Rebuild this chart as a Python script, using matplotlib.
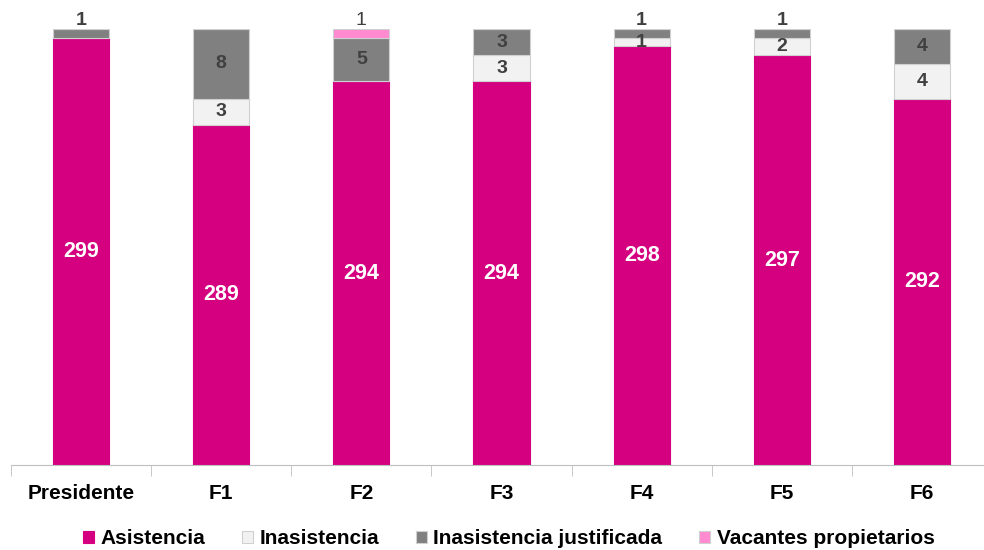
import matplotlib
matplotlib.use("Agg")
import matplotlib.pyplot as plt
import numpy as np

plt.rcParams['font.family'] = ['Liberation Sans', 'DejaVu Sans']

categories = ["Presidente", "F1", "F2", "F3", "F4", "F5", "F6"]
asistencia = [299, 289, 294, 294, 298, 297, 292]
inasistencia = [0, 3, 0, 3, 1, 2, 4]
justificada = [1, 8, 5, 3, 1, 1, 4]
vacantes = [0, 0, 1, 0, 0, 0, 0]
series_names = ["Asistencia", "Inasistencia", "Inasistencia justificada", "Vacantes propietarios"]
colors = ["#D5007F", "#F2F2F2", "#808080", "#FF8AD0"]

fig = plt.figure(figsize=(9.84, 5.50), dpi=100)
ax = fig.add_axes([11/984, 1-465/550, 981/984, (465-29)/550])
x = np.arange(len(categories))
w = 0.4
ymin, ymax = 250, 300

series = [asistencia, inasistencia, justificada, vacantes]
bottom = np.zeros(len(categories))
handles = []
for si, (vals, col, name) in enumerate(zip(series, colors, series_names)):
    vals = np.array(vals, dtype=float)
    ec = col if si == 0 else "#D0D0D0"
    b = ax.bar(x, vals, w, bottom=bottom, color=col, edgecolor=ec, linewidth=0.8, label=name)
    handles.append(b)
    for i, v in enumerate(vals):
        if v <= 0:
            continue
        lo = max(bottom[i], ymin)
        hi = bottom[i] + v
        top_seg = all(series[k][i] == 0 for k in range(si + 1, len(series)))
        if si == 0:
            ax.text(x[i], (lo + hi) / 2, f"{int(v)}", ha="center", va="center",
                    color="white", fontsize=15.5, fontweight="bold")
        elif v == 1 and top_seg:
            ax.text(x[i], hi + 0.05, f"{int(v)}", ha="center", va="bottom",
                    color="#404040", fontsize=14,
                    fontweight="normal" if si == 3 else "bold")
        else:
            ax.text(x[i], (lo + hi) / 2, f"{int(v)}", ha="center", va="center",
                    color="#404040", fontsize=14, fontweight="bold")
    bottom += vals

ax.set_ylim(ymin, ymax)
ax.set_xlim(-0.5, len(categories) - 0.5)
for s in ["top", "right", "left"]:
    ax.spines[s].set_visible(False)
ax.spines["bottom"].set_color("#BFBFBF")
ax.set_yticks([])
ax.set_xticks(x)
ax.set_xticklabels(categories, fontsize=15, fontweight="bold")
ax.tick_params(axis="x", length=0, pad=14)
ax.set_xticks(np.arange(-0.5, len(categories)), minor=True)
ax.tick_params(axis="x", which="minor", length=8, color="#BFBFBF")

fig.legend(handles=handles, labels=series_names, loc="center", bbox_to_anchor=(0.517, 1-539/550),
           ncol=4, frameon=False, prop={"size": 15, "weight": "bold"},
           handlelength=0.55, handleheight=0.55, handletextpad=0.3, columnspacing=1.75)

fig.savefig("out.png", dpi=100)
